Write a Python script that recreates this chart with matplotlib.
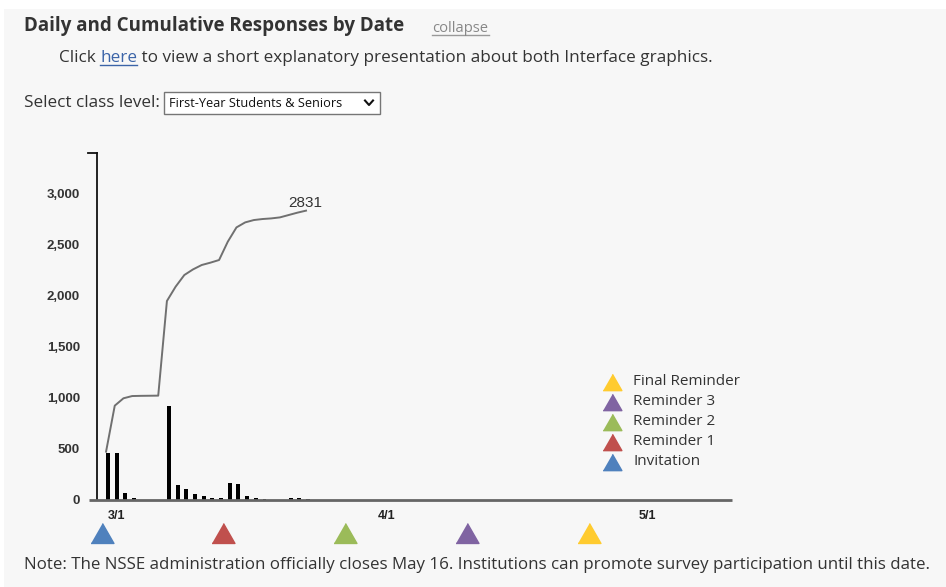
"""Daily and cumulative survey responses with mailing-date markers."""

import datetime as dt

import matplotlib
matplotlib.use("Agg")
import matplotlib.pyplot as plt
import matplotlib.dates as mdates
import matplotlib.transforms as mtransforms
from matplotlib.lines import Line2D
from matplotlib.patches import Rectangle

YEAR = 2023

# responses per day and running total
response_days = ["2/28", "3/1", "3/2", "3/3", "3/4", "3/5", "3/6", "3/7", "3/8", "3/9",
                 "3/10", "3/11", "3/12", "3/13", "3/14", "3/15", "3/16", "3/17", "3/18",
                 "3/19", "3/20", "3/21", "3/22", "3/23"]
daily_responses = [456, 463, 65, 23, 2, 1, 1, 923, 147, 104, 62, 42, 20, 23, 163, 157,
                   39, 23, 8, 4, 3, 20, 23, 8]
cumulative_responses = [473, 923, 995, 1017, 1019, 1020, 1021, 1947, 2087, 2201, 2256,
                        2299, 2322, 2348, 2527, 2667, 2716, 2739, 2749, 2755, 2765, 2788,
                        2811, 2831]

# mailings shown as triangles under the axis
mailing_days = ["2/27", "3/13", "3/27", "4/10", "4/24"]
mailing_labels = ["Invitation", "Reminder 1", "Reminder 2", "Reminder 3", "Final Reminder"]
mailing_colors = ["#4f81bd", "#c0504d", "#9bbb59", "#8064a2", "#ffcb2f"]

month_ticks = ["3/1", "4/1", "5/1"]
y_ticks = [0, 500, 1000, 1500, 2000, 2500, 3000]

W, H = 946, 587
UI_FONT = ["Open Sans", "DejaVu Sans"]
CHART_FONT = ["Liberation Sans", "DejaVu Sans"]


def to_date(label: str) -> dt.datetime:
    month, day = label.split("/")
    return dt.datetime(YEAR, int(month), int(day))


def fx(px: float) -> float:
    return px / W


def fy(py: float) -> float:
    return 1 - py / H


TRIANGLE = [(-1, -0.87), (1, -0.87), (0, 0.87)]

fig = plt.figure(figsize=(W / 100, H / 100), dpi=100)
fig.patch.set_facecolor("white")
fig.add_artist(Rectangle((fx(4), 0), 1 - fx(4), fy(9), transform=fig.transFigure,
                         facecolor="#f7f7f7", edgecolor="none", zorder=-10))

# ---- header ----
fig.text(fx(24), fy(31), "Daily and Cumulative Responses by Date", fontsize=13.5,
         fontweight="bold", color="#333333", family=UI_FONT, va="baseline")
fig.text(fx(432), fy(32), "collapse", fontsize=10.6, color="#888888", family=UI_FONT,
         va="baseline")
fig.add_artist(Line2D([fx(432), fx(489)], [fy(35), fy(35)], transform=fig.transFigure,
                      color="#999999", lw=1))

renderer = fig.canvas.get_renderer()
x_cursor = fx(59)
for piece, color in [("Click ", "#333333"), ("here", "#3b64a8"),
                     (" to view a short explanatory presentation about both Interface graphics.",
                      "#333333")]:
    t = fig.text(x_cursor, fy(62), piece, fontsize=12.3, color=color, family=UI_FONT,
                 va="baseline")
    bb = t.get_window_extent(renderer)
    if piece == "here":
        fig.add_artist(Line2D([bb.x0 / W, bb.x1 / W], [fy(65), fy(65)],
                              transform=fig.transFigure, color=color, lw=1))
    x_cursor = bb.x1 / W

fig.text(fx(24), fy(107), "Select class level:", fontsize=12.3, color="#333333",
         family=UI_FONT, va="baseline")
fig.add_artist(Rectangle((fx(164), fy(114)), fx(380) - fx(164), fy(92) - fy(114),
                         transform=fig.transFigure, facecolor="white",
                         edgecolor="#767676", lw=1))
fig.text(fx(169), fy(103.5), "First-Year Students & Seniors", fontsize=9.2, color="#111111",
         family=UI_FONT, va="center")
fig.add_artist(Line2D([fx(365), fx(369), fx(373)], [fy(100.5), fy(105), fy(100.5)],
                      transform=fig.transFigure, color="#111111", lw=1.5))

fig.text(fx(24), fy(569), "Note: The NSSE administration officially closes May 16. "
         "Institutions can promote survey participation until this date.",
         fontsize=12.2, color="#333333", family=UI_FONT, va="baseline")

# ---- chart ----
ax = fig.add_axes([fx(96.5), fy(500), fx(732) - fx(96.5), fy(153.3) - fy(500)])
ax.set_facecolor("none")

dates = [to_date(d) for d in response_days]
mar1 = mdates.date2num(to_date("3/1"))
ax.set_xlim(mar1 - 2.1, mar1 + 71.0)
ax.set_ylim(0, 3392)

ax.bar(dates, daily_responses, width=0.45, align="edge", color="black", zorder=2)
ax.plot(dates, cumulative_responses, color="#707070", lw=1.4, zorder=3)
ax.annotate(str(cumulative_responses[-1]), xy=(dates[-1], cumulative_responses[-1]),
            xytext=(-1, 8), textcoords="offset pixels", ha="center", va="center",
            fontsize=11, color="#333333", family=CHART_FONT)

for spine in ["top", "right", "bottom"]:
    ax.spines[spine].set_visible(False)
ax.spines["left"].set_color("#111111")
ax.spines["left"].set_linewidth(1.3)

ax.set_yticks(y_ticks)
ax.set_yticklabels([f"{v:,}" for v in y_ticks], fontsize=9.5, fontweight="bold",
                   color="#333333", family=CHART_FONT)
ax.tick_params(axis="y", length=0, pad=12)

ax.set_xticks([to_date(d) for d in month_ticks])
ax.set_xticklabels(month_ticks, fontsize=9, fontweight="bold", color="#222222",
                   family=CHART_FONT)
ax.tick_params(axis="x", length=0, pad=7.5)
shift = mtransforms.ScaledTranslation(2 / 100, 0, fig.dpi_scale_trans)
for lbl in ax.get_xticklabels():
    lbl.set_transform(lbl.get_transform() + shift)

# x axis line and the cap at the top of the y axis
fig.add_artist(Line2D([fx(89), fx(732)], [fy(500), fy(500)], transform=fig.transFigure,
                      color="#666666", lw=2, solid_capstyle="butt"))
fig.add_artist(Line2D([fx(88), fx(97)], [fy(153.3), fy(153.3)], transform=fig.transFigure,
                      color="#111111", lw=1.3))

# mailing markers under the axis
below = mtransforms.blended_transform_factory(ax.transData, fig.transFigure)
for day, color in zip(mailing_days, mailing_colors):
    x = mdates.date2num(to_date(day)) + 0.5
    ax.plot([x], [fy(533)], linestyle="none", marker=TRIANGLE, markersize=16.5,
            color=color, transform=below, clip_on=False)

# legend, listed from the last mailing down to the first
for i, (label, color) in enumerate(zip(mailing_labels[::-1], mailing_colors[::-1])):
    y = 381.5 + 20.1 * i
    ax.plot([fx(612)], [fy(y)], linestyle="none", marker=TRIANGLE, markersize=13.5,
            color=color, transform=fig.transFigure, clip_on=False)
    fig.text(fx(633), fy(y), label, fontsize=11, color="#333333", family=UI_FONT,
             va="center")

fig.savefig("out.png", dpi=100, facecolor=fig.get_facecolor())
